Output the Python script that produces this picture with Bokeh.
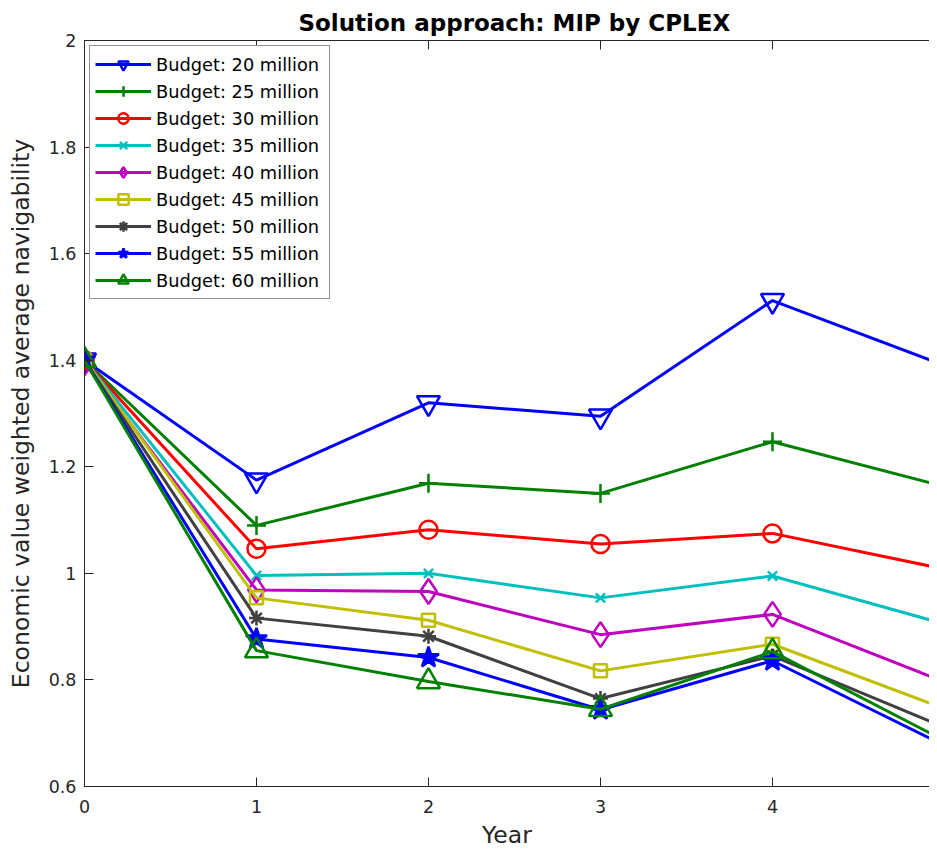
from bokeh.plotting import figure
from bokeh.models import Range1d, LinearAxis, FixedTicker
from bokeh.embed import file_html
from bokeh.resources import INLINE

# ---- data ----
years = [0, 1, 2, 3, 4, 5]
x_ticks = [0, 1, 2, 3, 4, 5]
y_ticks = [0.6, 0.8, 1.0, 1.2, 1.4, 1.6, 1.8, 2.0]

labels = ["Budget: 20 million", "Budget: 25 million", "Budget: 30 million",
          "Budget: 35 million", "Budget: 40 million", "Budget: 45 million",
          "Budget: 50 million", "Budget: 55 million", "Budget: 60 million"]

b20 = [1.400, 1.175, 1.320, 1.295, 1.512, 1.390]
b25 = [1.400, 1.090, 1.169, 1.150, 1.247, 1.163]
b30 = [1.400, 1.046, 1.082, 1.055, 1.075, 1.008]
b35 = [1.400, 0.996, 1.000, 0.954, 0.995, 0.905]
b40 = [1.395, 0.969, 0.966, 0.885, 0.923, 0.796]
b45 = [1.400, 0.954, 0.912, 0.817, 0.867, 0.746]
b50 = [1.400, 0.916, 0.882, 0.765, 0.845, 0.711]
b55 = [1.400, 0.877, 0.842, 0.744, 0.836, 0.677]
b60 = [1.400, 0.855, 0.797, 0.745, 0.853, 0.686]

values = [b20, b25, b30, b35, b40, b45, b50, b55, b60]

# ---- styles ----
colors = ["#0000FF", "#008000", "#FF0000", "#00BFBF", "#BF00BF",
          "#BFBF00", "#404040", "#0000FF", "#008000"]
markers = ["inverted_triangle", "cross", "circle", "x", "diamond",
           "square", "asterisk", "star", "triangle"]
msizes = [23, 19, 18, 13, 25, 13, 15, 22, 23]
filled = [False, False, False, False, False, False, False, True, False]

FONT = "DejaVu Sans"
AX = "#262626"

p = figure(width=929, height=851, output_backend="svg", toolbar_location=None,
           x_range=Range1d(0, 4.913), y_range=Range1d(0.6, 2.0),
           min_border_left=84, min_border_right=0, min_border_top=40,
           min_border_bottom=64, title="Solution approach: MIP by CPLEX",
           background_fill_color="white", border_fill_color="white")

p.title.text_font = FONT
p.title.text_font_size = "23px"
p.title.text_font_style = "bold"
p.title.text_color = "black"
p.title.align = "left"
p.title.offset = 214

p.xgrid.visible = False
p.ygrid.visible = False
p.outline_line_color = None


def style_axis(ax):
    ax.axis_line_color = AX
    ax.axis_line_width = 1
    ax.major_tick_line_color = AX
    ax.major_tick_in = 9
    ax.major_tick_out = 0
    ax.minor_tick_line_color = None
    ax.major_label_text_font = FONT
    ax.major_label_text_font_size = "17.5px"
    ax.major_label_text_color = AX
    ax.axis_label_text_font = FONT
    ax.axis_label_text_font_size = "23.5px"
    ax.axis_label_text_font_style = "normal"
    ax.axis_label_text_color = AX


xa = p.xaxis[0]
xa.ticker = FixedTicker(ticks=x_ticks)
xa.axis_label = "Year"
style_axis(xa)
xa.major_label_standoff = 13
xa.axis_label_standoff = 5
xa.axis_label_text_line_height = 1.0
xa.major_label_text_line_height = 1.0

ya = p.yaxis[0]
ya.ticker = FixedTicker(ticks=y_ticks)
ya.axis_label = "Economic value weighted average navigability"
style_axis(ya)
ya.major_label_overrides = {1.0: "1", 2.0: "2"}
ya.major_label_standoff = 8
ya.axis_label_standoff = 11

top = LinearAxis(ticker=FixedTicker(ticks=x_ticks))
style_axis(top)
top.major_label_text_font_size = "1px"
top.major_label_text_color = None
top.major_label_standoff = 0
p.add_layout(top, "above")

for lab, vals, c, m, s, f in zip(labels, values, colors, markers, msizes, filled):
    p.line(years, vals, line_color=c, line_width=3, legend_label=lab)
    p.scatter(years, vals, marker=m, size=s, line_color=c, line_width=2.5,
              fill_color=c if f else None, legend_label=lab)

lg = p.legend[0]
lg.location = "top_left"
lg.margin = 5
lg.padding = 5
lg.spacing = 1
lg.label_height = 26
lg.label_width = 168
lg.glyph_height = 26
lg.glyph_width = 56
lg.label_standoff = 5
lg.label_text_font = FONT
lg.label_text_font_size = "17.8px"
lg.label_text_color = "black"
lg.border_line_color = AX
lg.border_line_width = 1
lg.background_fill_color = "white"
lg.background_fill_alpha = 1.0

open("out.html", "w").write(file_html(p, INLINE))
